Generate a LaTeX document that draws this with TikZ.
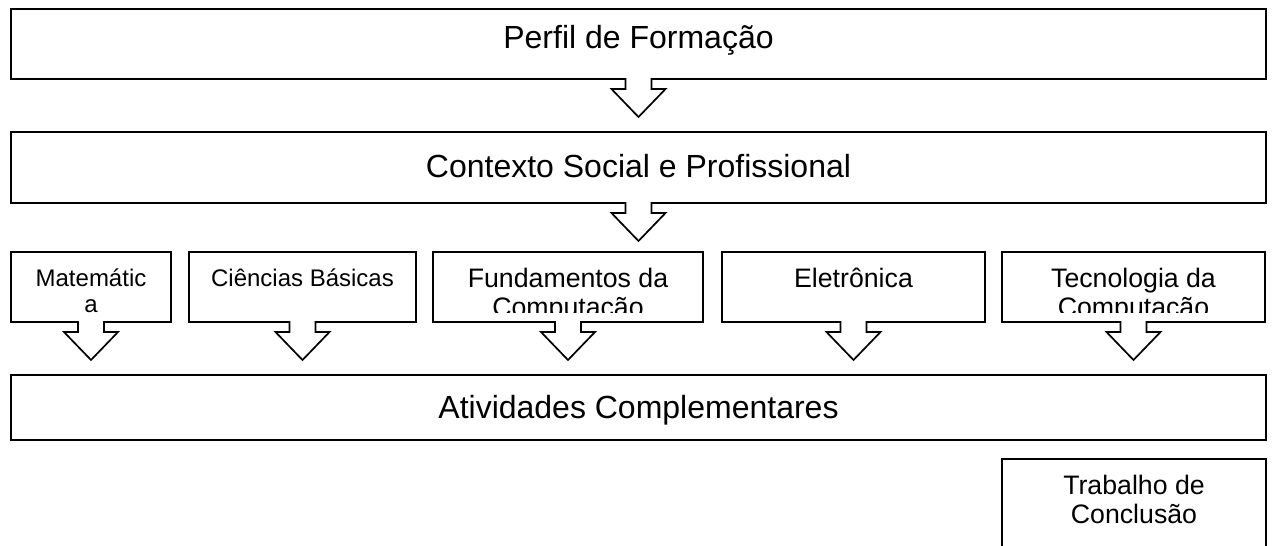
\documentclass[tikz,border=0pt]{standalone}
\usepackage{fontspec}
\setmainfont{Liberation Sans}
\usepackage{tikz}
\usetikzlibrary{positioning}

\tikzstyle{box} = [line width=1.7pt, line join=miter]
\tikzstyle{big} = [anchor=base, inner sep=0pt, font=\fontsize{32}{36}\selectfont]
\tikzstyle{small} = [anchor=base, inner sep=0pt, align=center, font=\fontsize{24}{26}\selectfont]
\tikzstyle{mid} = [anchor=base, inner sep=0pt, align=center, font=\fontsize{26.7}{29.5}\selectfont]

% Kasten mit Blockpfeil nach unten: links, oben, rechts, unten
\newcommand{\pfeilkasten}[4]{%
	\pgfmathsetmacro{\mx}{(#1+#3)/2}
	\draw[box] (#1,#2) -- (#3,#2) -- (#3,#4) -- ({\mx+13},#4) -- ({\mx+13},{#4+10})
		-- ({\mx+27},{#4+10}) -- (\mx,{#4+38}) -- ({\mx-27},{#4+10})
		-- ({\mx-13},{#4+10}) -- ({\mx-13},#4) -- (#1,#4) -- cycle;
}

\begin{document}
\begin{tikzpicture}[x=1pt, y=-1pt]
	\useasboundingbox (0,0) rectangle (1272,546);

	% Obere Kaesten
	\pfeilkasten{11}{9}{1266}{79}
	\node[big] (perfil) at (638.5,48) {Perfil de Formação};
	\pfeilkasten{11}{132}{1266}{203}
	\node[big] (contexto) at (638.5,177) {Contexto Social e Profissional};

	% Faecher (Grundlinie der letzten Zeile)
	\pfeilkasten{11}{252}{171}{322}
	\node[small] (mat) at (91,312) {Matemátic\\a};
	\pfeilkasten{189}{252}{416}{322}
	\node[small] (cien) at (302.5,286) {Ciências Básicas};
	\pfeilkasten{433}{252}{703}{322}
	\begin{scope}
		\clip (433,252) rectangle (703,312);
		\node[mid] (fund) at (568,316.5) {Fundamentos da\\Computação};
	\end{scope}
	\pfeilkasten{722}{252}{985}{322}
	\node[mid] (eletr) at (853.5,287) {Eletrônica};
	\pfeilkasten{1002}{252}{1265}{322}
	\begin{scope}
		\clip (1002,252) rectangle (1265,312);
		\node[mid] (tecn) at (1133.5,316.5) {Tecnologia da\\Computação};
	\end{scope}

	% Untere Kaesten
	\draw[box] (11,375) rectangle (1266,440);
	\node[big] (ativ) at (638.5,418) {Atividades Complementares};
	\draw[box] (1002,546) -- (1002,459) -- (1266,459) -- (1266,546);
	\node[mid] (trab) at (1134,523.5) {Trabalho de\\Conclusão};
\end{tikzpicture}
\end{document}
